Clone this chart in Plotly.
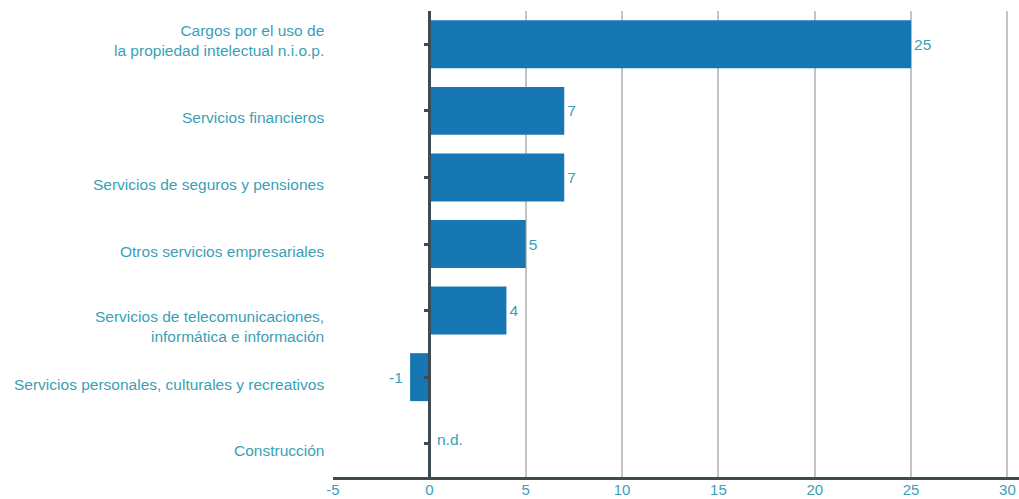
import plotly.graph_objects as go

categories = [
    "Cargos por el uso de<br>la propiedad intelectual n.i.o.p.",
    "Servicios financieros",
    "Servicios de seguros y pensiones",
    "Otros servicios empresariales",
    "Servicios de telecomunicaciones,<br>informática e información",
    "Servicios personales, culturales y recreativos",
    "Construcción",
]
values = [25, 7, 7, 5, 4, -1, None]
labels = ["25", "7", "7", "5", "4", "-1", "n.d."]
tick_vals = [-5, 0, 5, 10, 15, 20, 25, 30]

# style: vertical offsets (px) of the category labels relative to the bar centres
label_yshift = [4, -7, -7, -7, -16, -7, -7]

TEAL = "#3a9fb6"
DARK = "#3f4b53"
BAR = "#1677b2"
FONT = "Liberation Sans, Arial, sans-serif"
FS = 15.5

fig = go.Figure()
fig.add_trace(go.Bar(
    y=categories,
    x=values,
    orientation="h",
    marker=dict(color=BAR, line=dict(width=0)),
    width=0.72,
    text=[l if (v is not None and v >= 0) else (l + " " if v is not None else "")
          for l, v in zip(labels, values)],
    textposition="outside",
    textfont=dict(color=TEAL, size=FS, family=FONT),
    cliponaxis=False,
    showlegend=False,
    hoverinfo="skip",
))

# n.d. labels for missing values
for c, v, l in zip(categories, values, labels):
    if v is None:
        fig.add_annotation(x=0, y=c, text=l, showarrow=False, xanchor="left",
                           xshift=6, yshift=4,
                           font=dict(color=TEAL, size=FS, family=FONT))

# category labels as annotations (right-aligned at the left edge of the plot)
for c, ys in zip(categories, label_yshift):
    fig.add_annotation(x=0, xref="paper", y=c, yref="y", text=c, showarrow=False,
                       xanchor="right", align="right", xshift=-7, yshift=ys,
                       font=dict(color=TEAL, size=FS, family=FONT))

xmin, xmax = -5, 30.6
zero_pos = (0 - xmin) / (xmax - xmin)

fig.update_layout(
    width=1019, height=499,
    margin=dict(l=333, r=0, t=11, b=22, autoexpand=False),
    paper_bgcolor="white", plot_bgcolor="white",
    font=dict(family=FONT, color=TEAL, size=FS),
    xaxis=dict(
        range=[xmin, xmax],
        tickvals=tick_vals,
        ticktext=[str(t) for t in tick_vals],
        showgrid=True, gridcolor="#c4c4c4", gridwidth=1.5,
        zeroline=False, automargin=False,
        showline=True, linecolor=DARK, linewidth=3,
        ticks="", ticklabelstandoff=-3,
        tickfont=dict(color=TEAL, size=15, family=FONT),
        fixedrange=True,
    ),
    yaxis=dict(
        type="category",
        categoryorder="array", categoryarray=categories[::-1],
        autorange=False, range=[-0.5, len(categories) - 0.5],
        showgrid=False, zeroline=False, showline=False, automargin=False,
        ticks="", showticklabels=False,
    ),
    yaxis2=dict(
        type="category",
        categoryorder="array", categoryarray=categories[::-1],
        matches="y", automargin=False,
        overlaying="y", anchor="free", position=zero_pos, side="left",
        showticklabels=False, showgrid=False, zeroline=False,
        showline=True, linecolor=DARK, linewidth=2.5,
        ticks="outside", ticklen=5, tickwidth=2.5, tickcolor=DARK,
    ),
    bargap=0.28,
)
# invisible trace to activate yaxis2
fig.add_trace(go.Scatter(x=[0] * len(categories), y=categories, yaxis="y2",
                         mode="markers", marker=dict(opacity=0),
                         showlegend=False, hoverinfo="skip"))

fig.write_html("out.html", config={"displayModeBar": False},
               post_script="document.body.style.margin='0';document.body.style.overflow='hidden';")
